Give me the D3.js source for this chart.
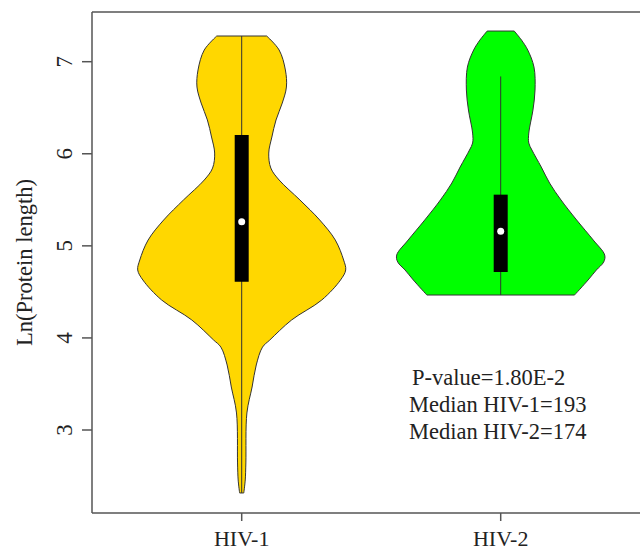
<!DOCTYPE html>
<head>
  <meta charset="utf-8">
<style>
body{
  margin: 0;
  background-color: white;
}
text{
  font-family: "Liberation Serif", "Times New Roman", serif;
  fill: #222;
}
.frame{
  stroke: #555;
  stroke-width: 1.5px;
}
.violin{
  stroke: #333;
  stroke-width: 1px;
}
</style>
</head>
<body>
  <svg width="640" height="551"></svg>
</body>

<script src="https://d3js.org/d3.v7.min.js"></script>
<script>

// groups shown on x axis
var groups = ["HIV-1", "HIV-2"];
var fills = ["#ffd700", "#00ff00"];

// density outline: ln(length) level and relative half width
var hiv1Levels = [7.279, 7.127, 6.910, 6.725, 6.551, 6.367, 6.182, 6.008, 5.845, 5.715, 5.498, 5.281,
                  5.063, 4.846, 4.738, 4.629, 4.412, 4.195, 3.977, 3.900, 3.706, 3.467, 3.185, 2.642, 2.457, 2.316];
var hiv1Density = [0.24, 0.36, 0.42, 0.43, 0.39, 0.33, 0.29, 0.26, 0.28, 0.36, 0.56, 0.75,
                   0.90, 0.98, 1.00, 0.95, 0.77, 0.48, 0.27, 0.20, 0.14, 0.10, 0.05, 0.04, 0.034, 0.02];

var hiv2Levels = [7.333, 7.235, 7.127, 6.942, 6.692, 6.475, 6.225, 6.117, 6.041, 5.856, 5.682, 5.498,
                  5.281, 5.063, 4.900, 4.824, 4.738, 4.629, 4.466];
var hiv2Density = [0.13, 0.20, 0.26, 0.32, 0.33, 0.31, 0.27, 0.27, 0.30, 0.39, 0.47, 0.58,
                   0.73, 0.89, 1.00, 0.99, 0.92, 0.84, 0.71];

// box stats: [whisker low, q1, median, q3, whisker high]
var hiv1Box = [2.316, 4.61, 5.263, 6.204, 7.279];
var hiv2Box = [4.466, 4.716, 5.159, 5.556, 6.84];

var yTicks = [3, 4, 5, 6, 7];
var notes = ["P-value=1.80E-2", "Median HIV-1=193", "Median HIV-2=174"];

var svg = d3.select("svg"),
    width = +svg.attr("width"),
    height = +svg.attr("height");

// note: "top" is taken by window.top, so use other names
var plotLeft = 92, plotTop = 12, plotBottom = 513;

var x = d3.scalePoint().domain(groups).range([241.7, 500.7]);
var y = d3.scaleLinear().domain([3, 7]).range([430, 61.7]);
var w = d3.scaleLinear().domain([0, 1]).range([0, 104]);

var violins = [
  {name: "HIV-1", pts: hiv1Levels.map((v, i) => ({v: v, d: hiv1Density[i]})), box: hiv1Box},
  {name: "HIV-2", pts: hiv2Levels.map((v, i) => ({v: v, d: hiv2Density[i]})), box: hiv2Box}
];

// frame: left, top and bottom lines (right side runs off the image)
svg.append("line").attr("class", "frame")
  .attr("x1", plotLeft).attr("x2", plotLeft).attr("y1", plotTop).attr("y2", plotBottom);
svg.append("line").attr("class", "frame")
  .attr("x1", plotLeft).attr("x2", width).attr("y1", plotTop).attr("y2", plotTop);
svg.append("line").attr("class", "frame")
  .attr("x1", plotLeft).attr("x2", width).attr("y1", plotBottom).attr("y2", plotBottom);

// y axis
var yAxis = svg.append("g");
yAxis.selectAll("line").data(yTicks).enter().append("line")
  .attr("class", "frame")
  .attr("x1", plotLeft - 10).attr("x2", plotLeft)
  .attr("y1", d => y(d)).attr("y2", d => y(d));
yAxis.selectAll("text").data(yTicks).enter().append("text")
  .attr("transform", d => "translate(72," + y(d) + ") rotate(-90)")
  .attr("text-anchor", "middle")
  .style("font-size", "23px")
  .text(d => d);

svg.append("text")
  .attr("transform", "translate(32," + ((plotTop + plotBottom) / 2) + ") rotate(-90)")
  .attr("text-anchor", "middle")
  .style("font-size", "22.5px")
  .text("Ln(Protein length)");

// x axis
var xAxis = svg.append("g");
xAxis.selectAll("line").data(groups).enter().append("line")
  .attr("class", "frame")
  .attr("x1", d => x(d)).attr("x2", d => x(d))
  .attr("y1", plotBottom).attr("y2", plotBottom + 8);
xAxis.selectAll("text").data(groups).enter().append("text")
  .attr("x", d => x(d)).attr("y", 546)
  .attr("text-anchor", "middle")
  .style("font-size", "22px")
  .text(d => d);

// violins
violins.forEach((g, i) => {
  var cx = x(g.name);
  var area = d3.area()
    .y(d => y(d.v))
    .x0(d => cx - w(d.d))
    .x1(d => cx + w(d.d))
    .curve(d3.curveCatmullRom.alpha(0.5));

  svg.append("path")
    .datum(g.pts)
    .attr("class", "violin")
    .attr("fill", fills[i])
    .attr("d", area);

  // whisker
  svg.append("line")
    .attr("x1", cx).attr("x2", cx)
    .attr("y1", y(g.box[0])).attr("y2", y(g.box[4]))
    .attr("stroke", "#333")
    .attr("stroke-width", 1);

  // box
  svg.append("rect")
    .attr("x", cx - 7).attr("width", 14)
    .attr("y", y(g.box[3]))
    .attr("height", y(g.box[1]) - y(g.box[3]))
    .attr("fill", "black");

  // median
  svg.append("circle")
    .attr("cx", cx).attr("cy", y(g.box[2]))
    .attr("r", 3.5)
    .attr("fill", "white");
});

// annotation text
svg.selectAll(".note").data(notes).enter().append("text")
  .attr("class", "note")
  .attr("x", (d, i) => i == 0 ? 412 : 409)
  .attr("y", (d, i) => 385 + i * 27)
  .style("font-size", "22.5px")
  .text(d => d);

</script>
